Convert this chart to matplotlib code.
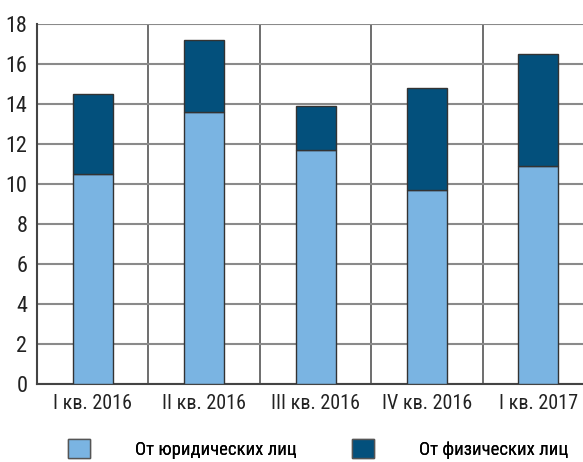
import matplotlib.pyplot as plt
import numpy as np
from matplotlib.patches import Patch

plt.rcParams['font.family'] = ['Roboto Condensed', 'DejaVu Sans']
plt.rcParams['font.size'] = 15

quarters = ['I кв. 2016', 'II кв. 2016', 'III кв. 2016', 'IV кв. 2016', 'I кв. 2017']
legal = [10.5, 13.6, 11.7, 9.7, 10.9]
individual = [4.0, 3.6, 2.2, 5.1, 5.6]
series_names = ['От юридических лиц', 'От физических лиц']

c_light = '#7ab4e2'
c_dark = '#03507c'

fig = plt.figure(figsize=(5.83, 4.62), dpi=100)
ax = fig.add_axes([0.0635, 0.1688, 0.9365, 0.779])

x = np.arange(len(quarters))
ax.bar(x, legal, width=0.36, color=c_light, edgecolor='#333333', linewidth=1, zorder=3)
ax.bar(x, individual, width=0.36, bottom=legal, color=c_dark, edgecolor='#333333', linewidth=1, zorder=3)

ax.set_ylim(0, 18)
ax.set_yticks(range(0, 19, 2))
ax.set_xlim(-0.5, 4.4)
ax.set_xticks(x)
ax.set_xticklabels(quarters)
ax.set_xticks(x[:-1] + 0.5, minor=True)
ax.grid(axis='y', color='#8a8a8a', linewidth=1.5, zorder=0)
ax.grid(axis='x', which='minor', color='#555555', linewidth=1.2, zorder=0)
ax.tick_params(axis='both', which='both', length=0, colors='#222222')
ax.tick_params(axis='x', pad=7, labelsize=14.5)
ax.tick_params(axis='y', pad=7, labelsize=16)
for s in ['top', 'right']:
    ax.spines[s].set_visible(False)
for s in ['left', 'bottom']:
    ax.spines[s].set_color('#444444')
    ax.spines[s].set_linewidth(1.5)
ax.set_axisbelow(True)

# две отдельные легенды, чтобы точно поставить квадраты
colors = [c_light, c_dark]
anchors = [(68 / 583, 13 / 462), (352 / 583, 13 / 462)]
for name, col, anc in zip(series_names, colors, anchors):
    lg = fig.legend([Patch(facecolor=col, edgecolor='#555555')], [name], loc='center left',
                    bbox_to_anchor=anc, frameon=False, borderpad=0, borderaxespad=0,
                    handlelength=1.17, handleheight=1.17, handletextpad=2.4, fontsize=13.5)
    fig.add_artist(lg)

fig.savefig('out.png', dpi=100)
